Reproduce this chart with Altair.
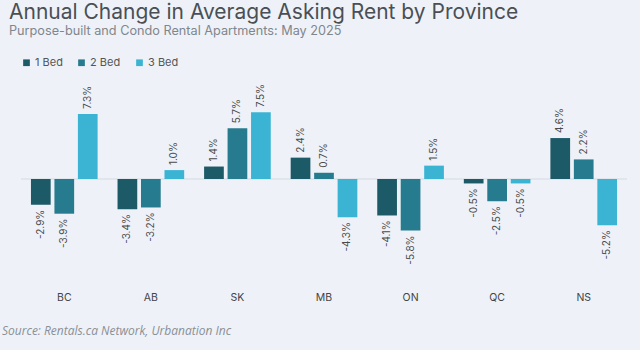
import altair as alt
import pandas as pd

provinces = ["BC", "AB", "SK", "MB", "ON", "QC", "NS"]
bed_types = ["1 Bed", "2 Bed", "3 Bed"]
one_bed = [-2.9, -3.4, 1.4, 2.4, -4.1, -0.5, 4.6]
two_bed = [-3.9, -3.2, 5.7, 0.7, -5.8, -2.5, 2.2]
three_bed = [7.3, 1.0, 7.5, -4.3, 1.5, -0.5, -5.2]
colors = ["#1d5a68", "#267b8e", "#3bb4d4"]

rows = []
for series, vals in zip(bed_types, [one_bed, two_bed, three_bed]):
    for p, v in zip(provinces, vals):
        rows.append({"Province": p, "Type": series, "Value": v, "Label": f"{v:.1f}%"})
df = pd.DataFrame(rows)

FONT = "Inter"

x_enc = alt.X("Province:N", sort=provinces,
              scale=alt.Scale(paddingInner=0.23, paddingOuter=0.115),
              axis=alt.Axis(title=None, domain=False, ticks=False, labelAngle=0,
                            labelPadding=12, labelFontSize=10.5, labelColor="#444444",
                            labelFont=FONT))
xo_enc = alt.XOffset("Type:N", sort=bed_types,
                     scale=alt.Scale(paddingInner=0.16, paddingOuter=0))
y_scale = alt.Scale(domain=[-11.35, 10], nice=False, zero=False)
y_enc = alt.Y("Value:Q", scale=y_scale, axis=None)
color_enc = alt.Color("Type:N", sort=bed_types,
                      scale=alt.Scale(domain=bed_types, range=colors),
                      legend=alt.Legend(title=None, orient="none", legendX=0, legendY=-33,
                                        direction="horizontal", symbolType="square",
                                        symbolSize=45, labelFontSize=11, labelColor="#555555",
                                        labelFont=FONT, columnPadding=13, symbolOffset=0,
                                        labelOffset=3))

base = alt.Chart(df)

zero = alt.Chart(pd.DataFrame({"z": [0]})).mark_rule(color="#d5dae1", strokeWidth=1).encode(
    y=alt.Y("z:Q", scale=y_scale, axis=None)
)

bars = base.mark_bar().encode(
    x=x_enc, xOffset=xo_enc, y=y_enc, y2=alt.datum(0), color=color_enc
)

pos_labels = base.transform_filter("datum.Value >= 0").mark_text(
    angle=270, align="left", baseline="middle", dx=5, fontSize=10, color="#4a4a4a", font=FONT
).encode(x=x_enc, xOffset=xo_enc, y=y_enc, text="Label:N")

neg_labels = base.transform_filter("datum.Value < 0").mark_text(
    angle=270, align="right", baseline="middle", dx=-5, fontSize=10, color="#4a4a4a", font=FONT
).encode(x=x_enc, xOffset=xo_enc, y=y_enc, text="Label:N")

source = alt.Chart(pd.DataFrame({"t": ["Source: Rentals.ca Network, Urbanation Inc"]})).mark_text(
    align="left", baseline="alphabetic", fontSize=12, fontStyle="italic",
    color="#8a8f96", font="Open Sans"
).encode(x=alt.value(-19), y=alt.value(245), text="t:N")

chart = alt.layer(zero, bars, pos_labels, neg_labels, source).properties(
    width=606, height=190,
    title=alt.TitleParams(
        text="Annual Change in Average Asking Rent by Province",
        subtitle="Purpose-built and Condo Rental Apartments: May 2025",
        anchor="start", frame="group", dx=-12, dy=-9, offset=10,
        font=FONT, fontSize=21, fontWeight="normal", color="#4a4f56",
        subtitleFont=FONT, subtitleFontSize=12.7, subtitleColor="#80868d", subtitlePadding=2,
    ),
    autosize=alt.AutoSizeParams(type="none"),
    padding={"left": 21, "top": 90, "right": 13, "bottom": 70},
    background="#eef2f8",
).configure_view(stroke=None)

chart.save("out.html", embed_options={"renderer": "svg", "actions": False})
